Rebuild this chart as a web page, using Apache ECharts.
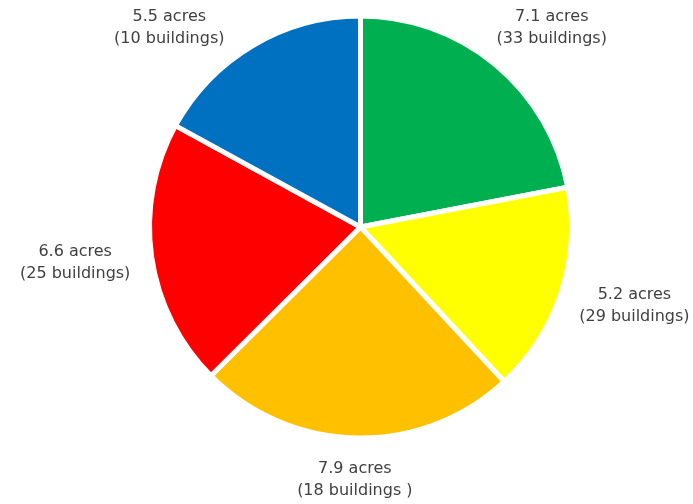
<!DOCTYPE html>
<html>
<head>
<meta charset="utf-8">
<script src="https://cdn.jsdelivr.net/npm/echarts@6/dist/echarts.min.js"></script>
<style>
  html, body { margin: 0; padding: 0; background: #fff; }
  #chart { width: 693px; height: 504px; }
</style>
</head>
<body>
<div id="chart"></div>
<script>
// Land area per group, with the number of buildings in each
const acres = [7.1, 5.2, 7.9, 6.6, 5.5];
const buildings = ['33 buildings', '29 buildings', '18 buildings ', '25 buildings', '10 buildings'];
const colors = ['#00B050', '#FFFF00', '#FFC000', '#FF0000', '#0070C0'];

const W = 693, H = 504;
const CX = 360.5, CY = 227, R = 211;
const ANCHOR_GAP = 22;  // anchor point sits this far outside the rim
const CLEAR_GAP = 12;   // minimum clearance between a label box and the pie

const data = acres.map((v, i) => ({
  value: v,
  name: buildings[i],
  itemStyle: { color: colors[i] }
}));

// mid angle of each slice, measured clockwise from 12 o'clock
const total = acres.reduce((a, b) => a + b, 0);
const midAngles = [];
let acc = 0;
acres.forEach(v => {
  midAngles.push((acc + v / 2) / total * 2 * Math.PI);
  acc += v;
});

// distance from the pie centre to the nearest point of a box
function nearest(cx, cy, hw, hh) {
  const dx = Math.max(0, Math.abs(cx) - hw);
  const dy = Math.max(0, Math.abs(cy) - hh);
  return Math.hypot(dx, dy);
}

// best-fit placement: hang the label box off an anchor on the slice's
// middle ray, keep it clear of the pie and inside the canvas
function placeLabel(params) {
  const a = midAngles[params.dataIndex];
  const ux = Math.sin(a), uy = -Math.cos(a);
  const hw = params.labelRect.width / 2, hh = params.labelRect.height / 2;
  const t0 = R + ANCHOR_GAP;
  let x = ux * t0 + hw * ux, y = uy * t0 + hh * uy;
  const need = R + CLEAR_GAP;
  while (nearest(x, y, hw, hh) < need) { x += ux * 0.5; y += uy * 0.5; }
  const minX = -CX + hw + 2, maxX = W - CX - hw - 2;
  const minY = -CY + hh + 6, maxY = H - CY - hh - 2;
  const cy2 = Math.min(maxY, Math.max(minY, y));
  if (cy2 !== y) {
    y = cy2;
    const sx = Math.sign(x) || 1;
    while (nearest(x, y, hw, hh) < need) x += sx * 0.5;
  }
  x = Math.min(maxX, Math.max(minX, x));
  return { x: CX + x, y: CY + y, align: 'center', verticalAlign: 'middle' };
}

const chart = echarts.init(document.getElementById('chart'));
chart.setOption({
  animation: false,
  series: [{
    type: 'pie',
    center: [CX, CY],
    radius: R,
    startAngle: 90,
    clockwise: true,
    data: data,
    itemStyle: { borderColor: '#ffffff', borderWidth: 5 },
    label: {
      show: true,
      position: 'outside',
      formatter: p => p.value.toFixed(1) + ' acres\n(' + p.name + ')',
      fontFamily: '"DejaVu Sans", sans-serif',
      fontSize: 16,
      lineHeight: 22,
      color: '#404040',
      align: 'center',
      overflow: 'none'
    },
    labelLine: { show: false },
    labelLayout: placeLabel,
    emphasis: { disabled: true }
  }]
});
</script>
</body>
</html>
